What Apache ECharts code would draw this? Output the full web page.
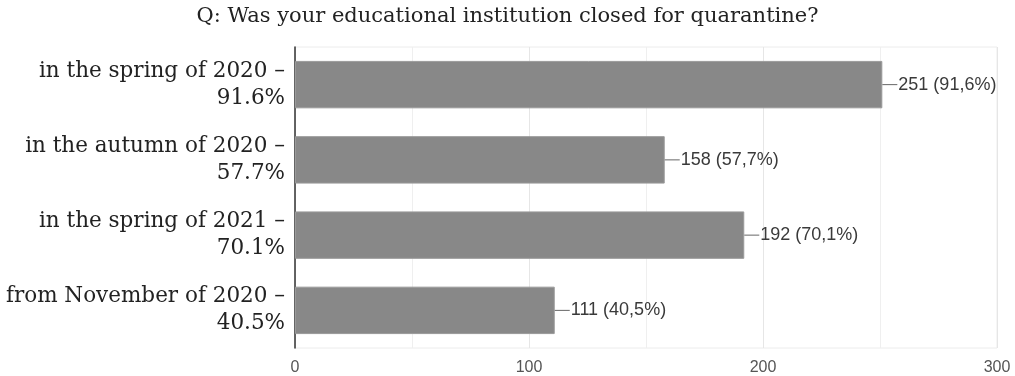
<!DOCTYPE html>
<html>
<head>
<meta charset="utf-8">
<script src="https://cdn.jsdelivr.net/npm/echarts@6/dist/echarts.min.js"></script>
<style>
  html, body { margin: 0; padding: 0; background: #ffffff; }
  #chart { width: 1015px; height: 376px; }
</style>
</head>
<body>
<div id="chart"></div>
<script>
// Survey answers and their counts
const categories = [
  'in the spring of 2020 –\n91.6%',
  'in the autumn of 2020 –\n57.7%',
  'in the spring of 2021 –\n70.1%',
  'from November of 2020 –\n40.5%'
];
const counts = [251, 158, 192, 111];
const shares = ['91,6%', '57,7%', '70,1%', '40,5%'];
const titleText = 'Q: Was your educational institution closed for quarantine?';

const chart = echarts.init(document.getElementById('chart'), null, { renderer: 'canvas' });

chart.setOption({
  backgroundColor: '#ffffff',
  animation: false,
  title: {
    text: titleText,
    left: 'center',
    top: 1,
    textStyle: {
      fontFamily: 'DejaVu Serif',
      fontWeight: 'normal',
      fontSize: 21,
      color: '#222'
    }
  },
  grid: {
    left: 295,
    right: 18,
    top: 47,
    bottom: 28,
    containLabel: false,
    outerBoundsMode: 'none',
    show: true,
    borderColor: '#ececec',
    borderWidth: 1
  },
  xAxis: {
    type: 'value',
    min: 0,
    max: 300,
    interval: 100,
    axisLine: { show: false },
    axisTick: { show: false },
    axisLabel: {
      color: '#555',
      fontFamily: 'Liberation Sans',
      fontSize: 16,
      margin: 12
    },
    splitLine: { show: true, lineStyle: { color: '#e6e6e6', width: 1 } },
    minorTick: { show: false, splitNumber: 2 },
    minorSplitLine: { show: true, lineStyle: { color: '#efefef', width: 1 } }
  },
  yAxis: {
    type: 'category',
    data: categories,
    inverse: true,
    axisLine: { show: true, lineStyle: { color: '#333', width: 1.5 } },
    axisTick: { show: false },
    axisLabel: {
      color: '#222',
      fontFamily: 'DejaVu Serif',
      fontSize: 21.5,
      lineHeight: 27,
      margin: 10,
      align: 'right'
    },
    splitLine: { show: false }
  },
  series: [{
    type: 'bar',
    data: counts,
    barCategoryGap: '37%',
    itemStyle: { color: '#888888', borderColor: '#9a9a9a', borderWidth: 1 },
    label: {
      show: true,
      position: 'right',
      distance: 0,
      formatter: p => '{lead|}{val|' + p.value + ' (' + shares[p.dataIndex] + ')}',
      rich: {
        lead: { width: 15, height: 1, backgroundColor: '#666' },
        val: {
          color: '#3a3a3a',
          fontFamily: 'Liberation Sans',
          fontSize: 18,
          padding: [0, 0, 0, 1]
        }
      }
    }
  }]
});
</script>
</body>
</html>
